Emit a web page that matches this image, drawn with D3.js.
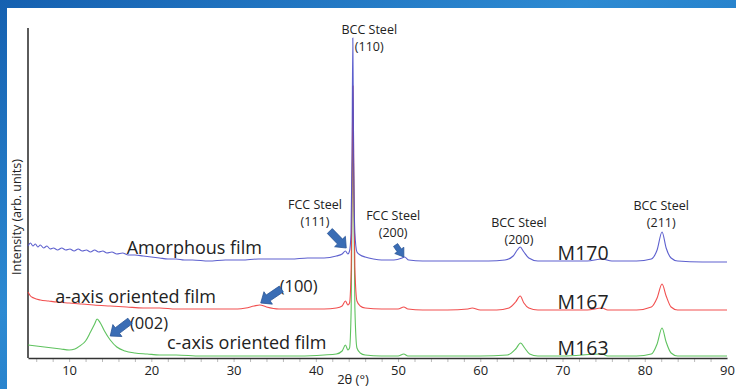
<!DOCTYPE html>
<html>
<head>
<meta charset="utf-8">
<script src="https://cdn.jsdelivr.net/npm/d3@7"></script>
<style>
  html, body { margin: 0; padding: 0; background: #fff; }
  svg { display: block; }
  text { font-family: "Open Sans", Lato, sans-serif; fill: #222; }
</style>
</head>
<body>
<div id="chart"></div>
<script>
// 2θ ticks along the bottom
const xTicks = [10, 20, 30, 40, 50, 60, 70, 80, 90];
const xMinor = d3.range(6, 90, 2);

// patterns as [2θ, intensity (arb. units, already offset)]
const m170 = [
  [5, 112], [5.3, 115], [5.6, 112], [5.9, 114], [6.2, 111], [6.5, 113], [6.9, 110], [7.3, 112],
  [7.7, 109], [8.1, 110], [8.6, 108], [9.1, 110], [9.6, 108], [10.1, 109], [10.6, 107],
  [11.1, 109], [11.6, 107], [12.1, 108], [12.6, 106], [13.1, 108], [13.6, 106], [14.1, 107],
  [14.6, 105], [15.2, 106], [15.8, 104], [16.5, 105], [17.2, 103], [18, 103], [19, 102],
  [20, 101], [21, 100], [22, 99], [23, 99], [24, 98], [25, 98], [27, 97], [29, 98],
  [31, 98], [33, 99], [35, 99], [37, 99], [39, 100], [41, 100], [42.5, 102], [43.2, 104],
  [43.6, 107], [43.9, 104], [44.1, 107], [44.28, 125], [44.4, 200], [44.5, 320],
  [44.6, 200], [44.75, 125], [45, 106], [45.4, 103], [46, 101], [47, 99], [48, 98],
  [49.5, 98], [50.5, 100], [50.8, 101], [51.3, 98], [53, 97], [55, 97], [57, 97],
  [59, 97], [61, 97], [63, 98], [64, 102], [64.5, 108], [64.85, 111], [65.3, 106],
  [65.9, 100], [67, 97], [70, 97], [73, 97], [74.8, 99], [76, 97], [79, 97], [80.8, 99],
  [81.5, 108], [82.1, 126], [82.6, 110], [83.2, 100], [84, 97], [87, 96], [90, 96]
];
const m167 = [
  [5, 66], [5.3, 62], [5.7, 60], [6.5, 58], [7.5, 57], [8.5, 56], [10, 55], [11.5, 54],
  [13, 53], [15, 52], [17, 51], [19, 50], [21, 50], [23, 49], [25, 49], [27, 49],
  [29, 49], [30.5, 49], [31.5, 50], [32.5, 52], [33.2, 53], [34, 51], [35.5, 49],
  [37, 49], [39, 49], [41, 49], [42.5, 50], [43.2, 52], [43.6, 57], [43.9, 53],
  [44.1, 55], [44.3, 90], [44.43, 200], [44.52, 272], [44.6, 200], [44.75, 90],
  [45, 57], [45.4, 52], [46, 50], [48, 49], [50, 49], [50.7, 51], [51.2, 49], [53, 48],
  [56, 48], [58.5, 49], [59, 50], [60, 48], [62, 48], [63.5, 50], [64.3, 56],
  [64.85, 62], [65.3, 55], [65.9, 50], [67, 48], [70, 48], [73, 48], [74.8, 50],
  [75.5, 48], [79, 48], [80.8, 51], [81.5, 60], [82.1, 74], [82.6, 62], [83.2, 51],
  [84, 48], [87, 48], [90, 48]
];
const m163 = [
  [5, 13], [6, 12], [7, 11], [8, 10], [9, 9], [10, 8], [10.7, 9], [11.3, 12], [12, 17],
  [12.6, 26], [13.1, 34], [13.4, 39], [13.8, 35], [14.3, 27], [15, 18], [15.8, 11],
  [16.8, 7], [18, 5], [19.5, 4], [21, 3], [23, 3], [26, 2], [30, 2], [34, 2], [38, 2],
  [41, 3], [42.5, 4], [43.2, 7], [43.6, 13], [43.9, 8], [44.1, 10], [44.3, 50],
  [44.43, 180], [44.52, 226], [44.6, 180], [44.75, 50], [45, 10], [45.4, 5], [46, 3],
  [48, 2], [50, 2], [50.7, 4], [51.2, 2], [55, 2], [60, 2], [63.3, 3], [64.3, 9],
  [64.9, 15], [65.4, 10], [66, 4], [67, 2], [70, 2], [74.8, 4], [75.5, 2], [79, 2],
  [80.8, 4], [81.5, 14], [82.1, 30], [82.6, 16], [83.2, 5], [84, 2], [90, 2]
];

const seriesNames = ["Amorphous film", "a-axis oriented film", "c-axis oriented film"];
const sampleIds = ["M170", "M167", "M163"];

// peak labels: [2θ, intensity, line1, line2]
const peakLabels = [
  [46.5, 324, "BCC Steel", "(110)"],
  [39.9, 149, "FCC Steel", "(111)"],
  [49.4, 138, "FCC Steel", "(200)"],
  [64.7, 131, "BCC Steel", "(200)"],
  [82.0, 148, "BCC Steel", "(211)"]
];
// arrows: [tail 2θ, tail I, tip 2θ, tip I]
const arrows = [
  [17.4, 37, 15.0, 22],
  [35.8, 69, 33.3, 55],
  [41.7, 127, 43.7, 110],
  [49.7, 113, 50.7, 101]
];
const hklLabels = [[17.4, 29, "(002)"], [35.6, 66, "(100)"]];

const W = 736, H = 389;
const x = d3.scaleLinear().domain([5, 90]).range([28, 727]);
const y = d3.scaleLinear().domain([0, 330]).range([358, 28]);

const svg = d3.select("#chart").append("svg").attr("width", W).attr("height", H);

// slide background
const defs = svg.append("defs");
const grad = defs.append("linearGradient").attr("id", "bg").attr("x1", 0).attr("x2", 1).attr("y1", 0).attr("y2", 1);
grad.append("stop").attr("offset", "0%").attr("stop-color", "#1560b0");
grad.append("stop").attr("offset", "40%").attr("stop-color", "#2d8ad2");
grad.append("stop").attr("offset", "70%").attr("stop-color", "#1f78c4");
grad.append("stop").attr("offset", "100%").attr("stop-color", "#3b98d8");
svg.append("rect").attr("width", W).attr("height", H).attr("fill", "url(#bg)");
svg.append("rect").attr("x", 7).attr("y", 8).attr("width", W - 7).attr("height", H - 8).attr("fill", "#fff");

// axes
svg.append("g")
  .attr("transform", `translate(0,${y(0)})`)
  .call(d3.axisBottom(x).tickValues(xMinor).tickSize(4).tickFormat(""))
  .call(g => g.select(".domain").remove())
  .call(g => g.selectAll("line").attr("stroke", "#bbb"));

svg.append("g")
  .attr("transform", `translate(0,${y(0)})`)
  .call(d3.axisBottom(x).tickValues(xTicks).tickSize(0).tickPadding(8).tickFormat(d3.format("d")))
  .call(g => g.select(".domain").attr("stroke", "#333").attr("stroke-width", 1.6))
  .call(g => g.selectAll("text").attr("font-family", "'Open Sans', sans-serif").attr("font-size", 13).attr("fill", "#222"));

svg.append("line")
  .attr("x1", x(5)).attr("x2", x(5)).attr("y1", y(330)).attr("y2", y(0))
  .attr("stroke", "#333").attr("stroke-width", 1.6);

svg.append("text").attr("x", 353).attr("y", 384).attr("text-anchor", "middle")
  .attr("font-size", 13).text("2θ (°)");
svg.append("text").attr("transform", "translate(21,217) rotate(-90)")
  .attr("text-anchor", "middle").attr("font-size", 12.5).text("Intensity (arb. units)");

// patterns
const line = d3.line().x(d => x(d[0])).y(d => y(d[1])).curve(d3.curveMonotoneX);
const colors = ["#4b4fc9", "#ef3c3c", "#4cbb4c"];
[m163, m167, m170].forEach((s, i) => {
  svg.append("path").datum(s).attr("d", line)
    .attr("fill", "none").attr("stroke", colors[2 - i]).attr("stroke-width", 1.1)
    .attr("stroke-opacity", 0.9);
});

// film labels and sample ids
const filmX = [17.0, 8.3, 21.9];
const filmY = [104, 55, 9];
seriesNames.forEach((n, i) => {
  svg.append("text").attr("x", x(filmX[i])).attr("y", y(filmY[i]))
    .attr("font-size", 18).text(n);
  svg.append("text").attr("x", x(69.4)).attr("y", y(filmY[i] - 6))
    .attr("font-size", 19.5).text(sampleIds[i]);
});

hklLabels.forEach(d => {
  svg.append("text").attr("x", x(d[0])).attr("y", y(d[1])).attr("font-size", 16.5).text(d[2]);
});

peakLabels.forEach(d => {
  const t = svg.append("text").attr("text-anchor", "middle").attr("font-size", 12.5);
  t.append("tspan").attr("x", x(d[0])).attr("y", y(d[1])).text(d[2]);
  t.append("tspan").attr("x", x(d[0])).attr("y", y(d[1]) + 17).text(d[3]);
});

// block arrows
arrows.forEach(a => {
  const x0 = x(a[0]), y0 = y(a[1]), x1 = x(a[2]), y1 = y(a[3]);
  const len = Math.hypot(x1 - x0, y1 - y0);
  const ux = (x1 - x0) / len, uy = (y1 - y0) / len;
  const nx = -uy, ny = ux;
  const head = Math.min(9, len * 0.55), sw = len < 18 ? 2.5 : 3.5, hw = len < 18 ? 5.5 : 7.5;
  const bx = x1 - ux * head, by = y1 - uy * head;
  const pts = [
    [x0 + nx * sw, y0 + ny * sw], [bx + nx * sw, by + ny * sw], [bx + nx * hw, by + ny * hw],
    [x1, y1], [bx - nx * hw, by - ny * hw], [bx - nx * sw, by - ny * sw], [x0 - nx * sw, y0 - ny * sw]
  ];
  svg.append("polygon").attr("points", pts.map(p => p.join(",")).join(" "))
    .attr("fill", "#3a6db5").attr("stroke", "#2a5597").attr("stroke-width", 0.8);
});
</script>
</body>
</html>
